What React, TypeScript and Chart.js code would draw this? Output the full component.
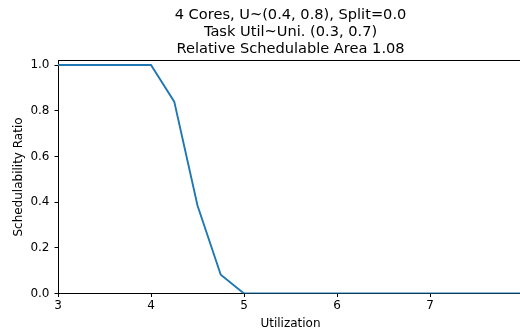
import React, { useEffect, useRef } from "react";
import { Chart, registerables } from "chart.js";

Chart.register(...registerables);

const xValues = [3.0, 3.25, 3.5, 3.75, 4.0, 4.25, 4.5, 4.75, 5.0, 5.25, 5.5, 5.75, 6.0, 6.25, 6.5, 6.75, 7.0, 7.25, 7.5, 7.75, 8.0];
const ratioValues = [1.0, 1.0, 1.0, 1.0, 1.0, 0.84, 0.385, 0.082, 0.0, 0.0, 0.0, 0.0, 0.0, 0.0, 0.0, 0.0, 0.0, 0.0, 0.0, 0.0, 0.0];
const xTicks = [3, 4, 5, 6, 7, 8];
const yTicks = [0.0, 0.2, 0.4, 0.6, 0.8, 1.0];
const titleLines = ["4 Cores, U~(0.4, 0.8), Split=0.0", "Task Util~Uni. (0.3, 0.7)", "Relative Schedulable Area 1.08"];
const xLabel = "Utilization";
const yLabel = "Schedulability Ratio";

const FONT = "'DejaVu Sans', sans-serif";
const CW = 560;
const CH = 335;

const decorPlugin = {
  id: "decor",
  afterDraw(chart: any) {
    const { ctx, chartArea } = chart;
    ctx.save();
    // top & right spines
    ctx.strokeStyle = "#000";
    ctx.lineWidth = 1;
    const ty = Math.floor(chartArea.top) + 0.5;
    ctx.beginPath();
    ctx.moveTo(chartArea.left, ty);
    ctx.lineTo(chartArea.right, ty);
    ctx.lineTo(chartArea.right, chartArea.bottom);
    ctx.stroke();
    // title
    const cx = (chartArea.left + chartArea.right) / 2;
    ctx.fillStyle = "#000";
    ctx.textAlign = "center";
    ctx.textBaseline = "middle";
    ctx.font = `14.6px ${FONT}`;
    const ys = [15.5, 32.5, 49.5];
    titleLines.forEach((t, i) => ctx.fillText(t, cx, ys[i]));
    // axis labels
    ctx.font = `12px ${FONT}`;
    ctx.fillText(xLabel, cx, 324);
    ctx.save();
    ctx.translate(19, (chartArea.top + chartArea.bottom) / 2);
    ctx.rotate(-Math.PI / 2);
    ctx.fillText(yLabel, 0, 0);
    ctx.restore();
    ctx.restore();
  },
};

export default function App() {
  const ref = useRef<HTMLCanvasElement | null>(null);
  useEffect(() => {
    document.body.style.margin = "0";
    const canvas = ref.current!;
    const chart = new Chart(canvas, {
      type: "line",
      data: {
        datasets: [
          {
            data: xValues.map((x, i) => ({ x, y: ratioValues[i] })),
            borderColor: "#1f77b4",
            borderWidth: 1.9,
            pointRadius: 0,
            tension: 0,
            fill: false,
          },
        ],
      },
      options: {
        animation: false,
        responsive: false,
        devicePixelRatio: 1,
        layout: { padding: { top: 60.5, right: CW - 523, left: 0, bottom: 0 } },
        plugins: { legend: { display: false }, tooltip: { enabled: false }, title: { display: false } },
        scales: {
          x: {
            type: "linear",
            min: 3,
            max: 8,
            afterBuildTicks: (s: any) => {
              s.ticks = xTicks.map((v) => ({ value: v }));
            },
            afterFit: (s: any) => {
              s.height = CH - 293.5;
            },
            grid: { drawOnChartArea: false, tickLength: 3.5, color: "#000", tickWidth: 1 },
            border: { display: true, color: "#000", width: 1 },
            ticks: {
              color: "#000",
              font: { family: FONT, size: 12 },
              padding: 2,
              maxRotation: 0,
              autoSkip: false,
              callback: (v: any) => String(v),
            },
          },
          y: {
            type: "linear",
            min: 0,
            max: 1.02,
            afterBuildTicks: (s: any) => {
              s.ticks = yTicks.map((v) => ({ value: v }));
            },
            afterFit: (s: any) => {
              s.width = 58;
            },
            grid: { drawOnChartArea: false, tickLength: 3.5, color: "#000", tickWidth: 1 },
            border: { display: true, color: "#000", width: 1 },
            ticks: {
              color: "#000",
              font: { family: FONT, size: 12 },
              padding: 5,
              autoSkip: false,
              callback: (v: any) => Number(v).toFixed(1),
            },
          },
        },
      },
      plugins: [decorPlugin],
    } as any);
    return () => chart.destroy();
  }, []);
  return (
    <div style={{ position: "fixed", left: 0, top: 0, width: 520, height: 335, overflow: "hidden", background: "#fff" }}>
      <canvas ref={ref} width={CW} height={CH} style={{ width: CW, height: CH, display: "block" }} />
    </div>
  );
}
